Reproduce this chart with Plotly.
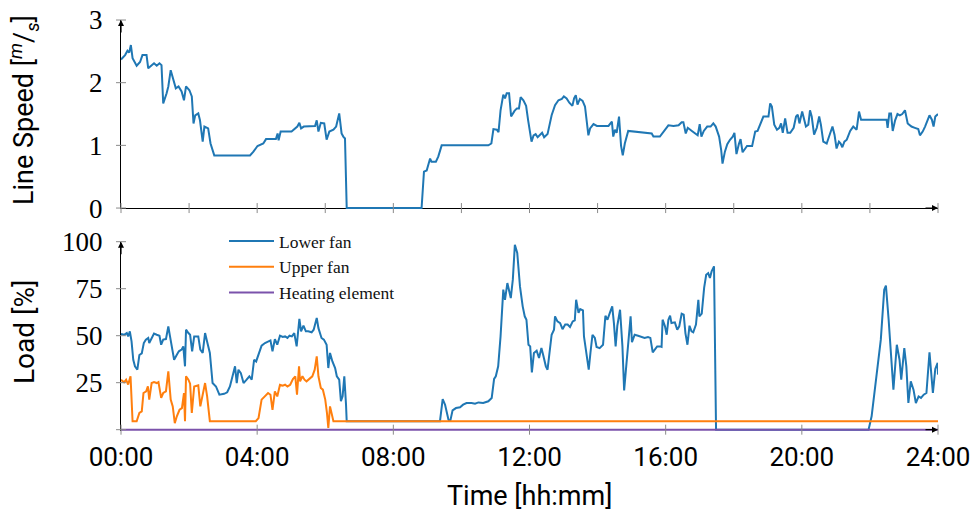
import plotly.graph_objects as go

# ---------------- data (time in hours) ----------------
speed_time = [
    0.00, 0.12, 0.19, 0.24, 0.29, 0.34, 0.46, 0.56, 0.63, 0.75,
    0.80, 0.90, 0.97, 1.05, 1.13, 1.19, 1.24, 1.34, 1.39, 1.46,
    1.54, 1.61, 1.69, 1.78, 1.85, 1.91, 2.01, 2.08, 2.13, 2.18,
    2.27, 2.32, 2.40, 2.45, 2.56, 2.63, 2.74, 3.79, 3.89, 4.01,
    4.18, 4.26, 4.55, 4.60, 4.63, 4.69, 5.01, 5.11, 5.18, 5.24,
    5.29, 5.37, 5.70, 5.75, 5.80, 5.87, 5.97, 6.04, 6.12, 6.24,
    6.32, 6.41, 6.48, 6.53, 6.58, 6.63, 8.83, 8.90, 8.98, 9.08,
    9.12, 9.25, 9.32, 9.42, 10.79, 10.88, 10.94, 11.04, 11.09, 11.15,
    11.23, 11.28, 11.33, 11.40, 11.46, 11.56, 11.63, 11.69, 11.74, 11.82,
    11.90, 11.96, 12.06, 12.12, 12.18, 12.24, 12.31, 12.37, 12.43, 12.53,
    12.65, 12.75, 12.85, 12.95, 13.01, 13.09, 13.17, 13.26, 13.31, 13.36,
    13.41, 13.48, 13.56, 13.63, 13.73, 13.78, 13.88, 13.98, 14.32, 14.42,
    14.46, 14.51, 14.56, 14.63, 14.69, 14.74, 14.80, 14.90, 15.59, 15.64,
    15.83, 15.93, 16.08, 16.23, 16.38, 16.47, 16.52, 16.59, 16.65, 16.77,
    16.87, 16.94, 17.00, 17.05, 17.12, 17.22, 17.32, 17.40, 17.47, 17.57,
    17.63, 17.67, 17.74, 17.81, 17.89, 17.97, 18.02, 18.08, 18.15, 18.20,
    18.26, 18.32, 18.39, 18.54, 18.63, 18.70, 18.78, 18.87, 19.02, 19.07,
    19.12, 19.19, 19.27, 19.34, 19.39, 19.44, 19.51, 19.58, 19.66, 19.76,
    19.83, 19.88, 19.93, 20.01, 20.12, 20.19, 20.24, 20.29, 20.36, 20.44,
    20.51, 20.56, 20.63, 20.73, 20.83, 20.90, 20.96, 21.02, 21.09, 21.14,
    21.19, 21.25, 21.32, 21.42, 21.51, 21.61, 21.68, 21.74, 22.49, 22.52,
    22.57, 22.62, 22.67, 22.74, 22.81, 22.88, 22.95, 23.03, 23.11, 23.22,
    23.32, 23.42, 23.47, 23.55, 23.62, 23.69, 23.75, 23.82, 23.87, 23.92,
    24.00,
]
speed_value = [
    2.37, 2.44, 2.51, 2.48, 2.60, 2.39, 2.27, 2.33, 2.44, 2.44,
    2.23, 2.28, 2.31, 2.27, 2.31, 2.28, 1.67, 1.83, 1.94, 2.20,
    2.04, 1.91, 1.94, 1.86, 1.72, 1.94, 1.88, 1.78, 1.35, 1.48,
    1.51, 1.40, 1.06, 1.30, 1.27, 1.03, 0.84, 0.84, 0.90, 0.99,
    1.03, 1.10, 1.10, 1.19, 1.08, 1.22, 1.22, 1.27, 1.30, 1.36,
    1.27, 1.30, 1.31, 1.40, 1.22, 1.36, 1.35, 1.09, 1.22, 1.25,
    1.30, 1.51, 1.19, 1.14, 1.11, 0.00, 0.00, 0.58, 0.60, 0.79,
    0.74, 0.74, 0.82, 1.00, 1.00, 1.03, 1.26, 1.25, 1.21, 1.56,
    1.81, 1.75, 1.83, 1.83, 1.46, 1.55, 1.59, 1.59, 1.77, 1.72,
    1.63, 1.40, 1.06, 1.16, 1.18, 1.13, 1.17, 1.20, 1.13, 1.18,
    1.48, 1.64, 1.72, 1.74, 1.78, 1.75, 1.68, 1.63, 1.75, 1.80,
    1.65, 1.74, 1.71, 1.62, 1.16, 1.27, 1.34, 1.31, 1.31, 1.38,
    1.14, 1.25, 1.20, 1.46, 0.99, 0.84, 1.03, 1.23, 1.19, 1.14,
    1.14, 1.22, 1.32, 1.31, 1.32, 1.37, 1.37, 1.19, 1.28, 1.23,
    1.19, 1.16, 1.34, 1.14, 1.23, 1.30, 1.30, 1.35, 1.30, 1.14,
    0.93, 0.71, 0.90, 1.02, 1.09, 1.14, 1.20, 0.86, 1.02, 1.10,
    0.89, 0.94, 0.99, 0.99, 1.22, 1.23, 1.35, 1.46, 1.46, 1.67,
    1.62, 1.33, 1.25, 1.28, 1.35, 1.20, 1.43, 1.20, 1.20, 1.28,
    1.46, 1.49, 1.35, 1.54, 1.30, 1.33, 1.56, 1.46, 1.17, 1.28,
    1.46, 1.33, 1.06, 1.03, 1.19, 1.30, 1.17, 0.95, 1.06, 1.03,
    0.97, 1.06, 1.09, 1.23, 1.30, 1.25, 1.54, 1.41, 1.41, 1.28,
    1.51, 1.51, 1.23, 1.40, 1.50, 1.48, 1.50, 1.56, 1.35, 1.30,
    1.28, 1.26, 1.16, 1.22, 1.30, 1.40, 1.48, 1.41, 1.30, 1.46,
    1.50,
]

lower_time = [
    0.00, 0.09, 0.17, 0.21, 0.26, 0.31, 0.36, 0.41, 0.48, 0.54,
    0.61, 0.67, 0.73, 0.80, 0.83, 0.90, 0.97, 1.05, 1.13, 1.18,
    1.24, 1.32, 1.39, 1.44, 1.49, 1.56, 1.64, 1.70, 1.78, 1.83,
    1.88, 1.91, 1.98, 2.03, 2.09, 2.15, 2.27, 2.33, 2.40, 2.47,
    2.53, 2.61, 2.69, 2.79, 2.89, 3.03, 3.12, 3.20, 3.30, 3.35,
    3.40, 3.45, 3.52, 3.60, 3.69, 3.77, 3.84, 3.91, 3.97, 4.04,
    4.13, 4.23, 4.32, 4.39, 4.45, 4.52, 4.59, 4.67, 4.75, 4.82,
    4.89, 4.95, 5.02, 5.09, 5.16, 5.24, 5.29, 5.36, 5.43, 5.50,
    5.60, 5.66, 5.75, 5.80, 5.89, 5.96, 6.04, 6.09, 6.14, 6.21,
    6.29, 6.34, 6.41, 6.46, 6.51, 6.56, 6.61, 6.63, 9.37, 9.45,
    9.52, 9.62, 9.67, 9.74, 9.84, 9.96, 10.05, 10.15, 10.30, 10.40,
    10.50, 10.64, 10.79, 10.89, 10.96, 11.01, 11.08, 11.15, 11.23, 11.28,
    11.35, 11.40, 11.45, 11.51, 11.57, 11.64, 11.72, 11.80, 11.86, 11.91,
    11.97, 12.02, 12.07, 12.13, 12.21, 12.28, 12.35, 12.40, 12.48, 12.53,
    12.59, 12.65, 12.72, 12.75, 12.82, 12.90, 12.97, 13.05, 13.12, 13.19,
    13.27, 13.33, 13.37, 13.44, 13.49, 13.57, 13.60, 13.68, 13.74, 13.79,
    13.85, 13.92, 13.97, 14.06, 14.16, 14.23, 14.29, 14.36, 14.43, 14.48,
    14.53, 14.58, 14.66, 14.73, 14.78, 14.85, 14.90, 14.97, 15.01, 15.09,
    15.19, 15.29, 15.38, 15.48, 15.55, 15.62, 15.68, 15.75, 15.83, 15.88,
    15.91, 15.98, 16.03, 16.08, 16.13, 16.17, 16.27, 16.34, 16.40, 16.47,
    16.53, 16.58, 16.64, 16.70, 16.76, 16.81, 16.89, 16.96, 16.99, 17.06,
    17.13, 17.19, 17.25, 17.30, 17.35, 17.42, 17.48, 21.96, 22.05, 22.20,
    22.32, 22.42, 22.47, 22.55, 22.62, 22.69, 22.79, 22.87, 22.92, 23.01,
    23.07, 23.13, 23.20, 23.28, 23.35, 23.43, 23.50, 23.58, 23.66, 23.75,
    23.85, 23.92, 23.99, 24.00,
]
lower_load = [
    50.9, 50.5, 51.4, 49.6, 52.3, 47.0, 37.2, 33.7, 31.9, 39.7,
    40.6, 46.1, 47.9, 48.8, 46.1, 48.8, 51.1, 50.5, 50.0, 45.2,
    47.9, 48.2, 54.9, 49.6, 44.3, 37.2, 39.9, 41.7, 42.6, 44.3,
    33.7, 53.2, 51.4, 50.5, 41.7, 49.6, 49.6, 42.6, 40.8, 51.4,
    46.8, 40.8, 24.8, 23.0, 18.6, 19.1, 19.9, 23.0, 30.1, 33.7,
    24.8, 31.9, 30.1, 24.8, 26.6, 28.4, 26.6, 37.2, 36.3, 39.9,
    44.7, 46.1, 47.0, 47.5, 41.7, 48.2, 45.2, 50.0, 49.3, 49.6,
    48.8, 50.0, 49.6, 51.4, 44.3, 58.9, 52.3, 55.3, 52.3, 52.3,
    51.8, 53.2, 59.4, 54.0, 48.8, 47.9, 45.2, 32.8, 40.8, 36.3,
    32.8, 28.4, 26.6, 15.1, 17.7, 28.4, 13.3, 4.5, 4.5, 16.3,
    13.3, 5.3, 4.4, 10.3, 11.5, 11.9, 13.3, 14.2, 14.2, 13.8,
    14.5, 14.2, 15.1, 16.9, 27.0, 28.4, 33.7, 49.6, 74.5, 69.1,
    78.0, 74.5, 70.0, 79.8, 98.4, 94.0, 76.2, 65.6, 60.3, 58.5,
    45.2, 44.3, 30.5, 40.8, 42.0, 38.1, 43.4, 39.9, 33.7, 31.9,
    40.8, 50.5, 53.2, 60.3, 57.6, 56.7, 53.5, 55.9, 55.9, 54.6,
    57.6, 58.2, 69.1, 62.1, 64.2, 63.5, 49.6, 38.1, 31.9, 40.8,
    50.5, 48.8, 44.0, 43.4, 45.2, 60.6, 58.5, 62.1, 65.6, 56.7,
    44.3, 55.3, 63.8, 44.3, 20.9, 35.5, 46.1, 60.3, 46.6, 50.5,
    50.0, 49.3, 48.8, 49.3, 48.8, 41.1, 42.6, 44.3, 44.3, 44.0,
    58.5, 55.0, 50.5, 58.5, 60.6, 56.7, 57.1, 53.2, 55.0, 61.7,
    61.2, 51.4, 45.2, 55.3, 52.3, 51.8, 55.9, 69.1, 60.3, 61.7,
    75.4, 82.4, 83.3, 80.7, 84.2, 86.9, 0.0, 0.0, 7.1, 28.4,
    47.9, 74.5, 76.6, 58.5, 40.8, 21.3, 45.2, 37.2, 26.6, 43.4,
    33.7, 14.2, 25.7, 21.3, 14.2, 17.7, 16.9, 18.6, 19.5, 41.1,
    19.5, 32.3, 35.5, 29.3,
]

upper_time = [
    0.00, 0.09, 0.15, 0.21, 0.28, 0.34, 0.46, 0.54, 0.61, 0.66,
    0.74, 0.79, 0.83, 0.90, 0.97, 1.05, 1.10, 1.18, 1.24, 1.32,
    1.39, 1.46, 1.52, 1.58, 1.64, 1.72, 1.79, 1.85, 1.88, 1.91,
    1.98, 2.03, 2.08, 2.15, 2.23, 2.27, 2.33, 2.41, 2.47, 2.53,
    2.61, 3.96, 4.04, 4.13, 4.23, 4.32, 4.39, 4.45, 4.52, 4.59,
    4.67, 4.75, 4.82, 4.89, 4.97, 5.05, 5.12, 5.17, 5.23, 5.26,
    5.33, 5.39, 5.45, 5.53, 5.62, 5.69, 5.75, 5.80, 5.87, 5.93,
    6.00, 6.05, 6.09, 6.14, 6.19, 6.24, 24.00,
]
upper_load = [
    26.6, 25.2, 26.6, 24.0, 28.4, 4.5, 4.5, 8.9, 9.7, 19.5,
    20.4, 23.0, 16.0, 24.8, 25.3, 24.8, 25.3, 16.9, 19.5, 20.4,
    31.0, 16.0, 12.4, 3.5, 7.1, 10.6, 11.5, 19.5, 4.5, 28.4,
    26.6, 24.5, 8.9, 23.0, 23.4, 23.6, 12.4, 19.5, 24.8, 17.7,
    4.5, 4.5, 6.2, 16.0, 17.7, 19.5, 18.6, 10.6, 20.4, 17.7,
    23.9, 23.4, 23.9, 23.0, 23.9, 26.9, 28.4, 18.6, 33.7, 25.7,
    28.4, 26.6, 25.7, 26.9, 28.4, 31.9, 39.0, 28.4, 22.2, 21.3,
    16.0, 8.9, 0.9, 12.4, 8.9, 4.5, 4.5,
]

heat_time = [0.0, 24.0]
heat_load = [0.0, 0.0]

x_tick_vals = [0, 4, 8, 12, 16, 20, 24]
x_tick_text = ["00:00", "04:00", "08:00", "12:00", "16:00", "20:00", "24:00"]
x_top_ticks = [0, 2, 4, 6, 8, 10, 12, 14, 16, 18, 20, 22, 24]
speed_ticks = [0, 1, 2, 3]
load_ticks = [25, 50, 75, 100]

# ---------------- styling ----------------
BLUE = "#1f77b4"
ORANGE = "#ff7f0e"
PURPLE = "#7b52ab"
W, H = 974, 515
ML, MR, MT, MB = 121, 36, 20, 84
PW = W - ML - MR
PH = H - MT - MB
TOP_RANGE = [-0.02, 3]
BOT_RANGE = [-0.7, 100]
TOP_DOM = [0.5394, 1.0]
BOT_DOM = [0.0, 0.4606]
SERIF = "Liberation Serif"
SANS = "Roboto"
TICKC = "#8a8a8a"

fig = go.Figure()
fig.add_trace(go.Scatter(x=speed_time, y=speed_value, mode="lines",
                         line=dict(color=BLUE, width=2), showlegend=False,
                         xaxis="x", yaxis="y", name="Line speed"))
fig.add_trace(go.Scatter(x=lower_time, y=lower_load, mode="lines",
                         line=dict(color=BLUE, width=2), name="Lower fan",
                         xaxis="x2", yaxis="y2"))
fig.add_trace(go.Scatter(x=upper_time, y=upper_load, mode="lines",
                         line=dict(color=ORANGE, width=2), name="Upper fan",
                         xaxis="x2", yaxis="y2"))
fig.add_trace(go.Scatter(x=heat_time, y=heat_load, mode="lines",
                         line=dict(color=PURPLE, width=2), name="Heating element",
                         xaxis="x2", yaxis="y2"))

common_y = dict(showgrid=False, showline=True, linecolor="black", linewidth=1.2,
                zeroline=True, zerolinecolor="black", zerolinewidth=1.2,
                ticks="", tickfont=dict(family=SERIF, size=27, color="black"),
                ticklabelstandoff=12, automargin=False)
common_x = dict(showgrid=False, zeroline=False, showline=False, ticks="",
                range=[0, 24], domain=[0, 1], automargin=False)

fig.update_layout(
    width=W, height=H, autosize=False,
    margin=dict(l=ML, r=MR, t=MT, b=MB, autoexpand=False),
    paper_bgcolor="white", plot_bgcolor="white",
    xaxis=dict(anchor="y", showticklabels=False, **common_x),
    yaxis=dict(domain=TOP_DOM, range=TOP_RANGE, tickvals=speed_ticks,
               anchor="x", **common_y),
    xaxis2=dict(anchor="y2", tickvals=x_tick_vals, ticktext=x_tick_text,
                tickfont=dict(family=SANS, size=26, color="black"),
                ticklabelstandoff=8, **common_x),
    yaxis2=dict(domain=BOT_DOM, range=BOT_RANGE, tickvals=load_ticks,
                anchor="x2", **common_y),
    legend=dict(x=(224 - ML) / PW, y=(H - MB - 223) / PH, xanchor="left",
                yanchor="top", bgcolor="rgba(0,0,0,0)", itemwidth=45,
                font=dict(family=SERIF, size=17.5, color="#111")),
    showlegend=True,
)

# crossing tick marks (pgfplots style)
def tick_shapes(xa, ya, yaxname, yr, xticks, yticks):
    shapes = []
    z = (0 - yr[0]) / (yr[1] - yr[0])
    dom_h = (ya[1] - ya[0]) * PH
    dy = 5 / dom_h
    for t in xticks:
        xf = t / 24
        shapes.append(dict(type="line", xref=f"{xa} domain", yref=f"{yaxname} domain",
                           x0=xf, x1=xf, y0=z - dy, y1=z + dy,
                           line=dict(color=TICKC, width=1)))
    dx = 5 / PW
    for v in yticks:
        yf = (v - yr[0]) / (yr[1] - yr[0])
        shapes.append(dict(type="line", xref=f"{xa} domain", yref=f"{yaxname} domain",
                           x0=-dx, x1=dx, y0=yf, y1=yf,
                           line=dict(color=TICKC, width=1)))
    return shapes

all_shapes = (tick_shapes("x", TOP_DOM, "y", TOP_RANGE, x_top_ticks, speed_ticks)
              + tick_shapes("x2", BOT_DOM, "y2", BOT_RANGE, x_tick_vals, [0] + load_ticks))
fig.update_layout(shapes=all_shapes)

# axis arrows
arrow = dict(text="", showarrow=True, arrowhead=2, arrowsize=1, arrowwidth=1.2,
             arrowcolor="black", standoff=0)
annotations = [
    dict(x=0, y=3, xref="x", yref="y", ax=0, ay=14, **arrow),
    dict(x=24, y=0, xref="x", yref="y", ax=-14, ay=0, **arrow),
    dict(x=0, y=100, xref="x2", yref="y2", ax=0, ay=14, **arrow),
    dict(x=24, y=0, xref="x2", yref="y2", ax=-14, ay=0, **arrow),
    dict(text="Line Speed [<sup><i>m</i></sup>/<sub><i>s</i></sub>]", x=(24 - ML) / PW,
         y=(H - MB - 110) / PH, xref="paper", yref="paper", showarrow=False,
         textangle=-90, xanchor="center", yanchor="middle",
         font=dict(family=SANS, size=27, color="black")),
    dict(text="Load [%]", x=(24 - ML) / PW, y=(H - MB - 332) / PH,
         xref="paper", yref="paper", showarrow=False, textangle=-90,
         xanchor="center", yanchor="middle",
         font=dict(family=SANS, size=28, color="black")),
    dict(text="Time [hh:mm]", x=0.5, y=(H - MB - 496) / PH, xref="paper",
         yref="paper", showarrow=False, xanchor="center", yanchor="middle",
         font=dict(family=SANS, size=27, color="black")),
]
fig.update_layout(annotations=annotations)

fig.write_html("out.html")
